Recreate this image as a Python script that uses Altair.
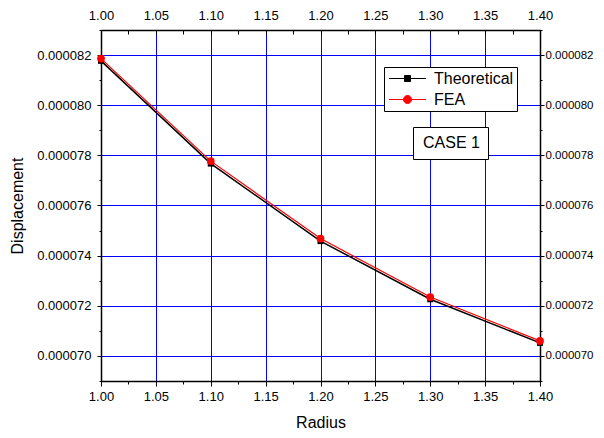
import altair as alt
import pandas as pd

# ---- data ----
radius = [1.00, 1.10, 1.20, 1.30, 1.40]
theoretical = [8.177e-05, 7.767e-05, 7.458e-05, 7.226e-05, 7.052e-05]
fea = [8.186e-05, 7.777e-05, 7.468e-05, 7.235e-05, 7.060e-05]
series_names = ["Theoretical", "FEA"]
series_colors = ["#000000", "#ff0000"]
case_label = ["CASE 1"]

x_ticks = [round(1.0 + 0.025 * i, 3) for i in range(17)]
y_ticks = [round(69e-6 + 1e-6 * i, 12) for i in range(15)]

df = pd.DataFrame({
    "Radius": radius * 2,
    "Displacement": theoretical + fea,
    "series": ["Theoretical"] * len(radius) + ["FEA"] * len(radius),
})
notes = pd.DataFrame({"note": case_label})

FONT = "Liberation Sans"
x_major = "round(datum.value*1000) % 50 == 0"
y_major = "round(datum.value*1e7) % 20 == 0"

x_scale = alt.Scale(domain=[1.0, 1.4], nice=False, zero=False)
y_scale = alt.Scale(domain=[69e-6, 83e-6], nice=False, zero=False)

common_axis = dict(
    labelFont=FONT, labelColor="black",
    titleFont=FONT, titleFontSize=16, titleFontWeight="normal", titleColor="black",
    domainColor="black", domainWidth=1.5, tickColor="black", tickWidth=1,
)

x_bottom = alt.X("Radius:Q", scale=x_scale, axis=alt.Axis(
    orient="bottom", title="Radius", values=x_ticks, format=".2f",
    labelExpr=f"{x_major} ? datum.label : ''", labelFontSize=13,
    tickSize={"condition": {"test": x_major, "value": 5}, "value": 3},
    grid=True, gridColor="#0000ff", gridWidth=1,
    gridOpacity={"condition": {"test": x_major, "value": 1}, "value": 0},
    labelPadding=4, titlePadding=11, labelFlush=False, **common_axis))
y_left = alt.Y("Displacement:Q", scale=y_scale, axis=alt.Axis(
    orient="left", title="Displacement", values=y_ticks, format=".6f",
    labelExpr=f"{y_major} ? datum.label : ''", labelFontSize=13,
    tickSize={"condition": {"test": y_major, "value": 4}, "value": 2},
    grid=True, gridColor="#0000ff", gridWidth=1,
    gridOpacity={"condition": {"test": y_major, "value": 1}, "value": 0},
    labelPadding=6, titlePadding=11, labelFlush=False, **common_axis))
x_top = alt.X("Radius:Q", scale=x_scale, axis=alt.Axis(
    orient="top", title=None, values=x_ticks, format=".2f",
    labelExpr=f"{x_major} ? datum.label : ''", labelFontSize=13,
    tickSize=alt.ExprRef(expr="-4"), labelPadding=12, grid=False,
    labelFlush=False, **common_axis))
y_right = alt.Y("Displacement:Q", scale=y_scale, axis=alt.Axis(
    orient="right", title=None, values=y_ticks, format=".6f",
    labelExpr=f"{y_major} ? datum.label : ''", labelFontSize=11.5,
    tickSize={"condition": {"test": y_major, "value": 4}, "value": 2},
    labelPadding=1, grid=False, labelFlush=False, **common_axis))
x_plain = alt.X("Radius:Q", scale=x_scale, axis=None)
y_plain = alt.Y("Displacement:Q", scale=y_scale, axis=None)

base = alt.Chart(df)

line_theo = base.transform_filter("datum.series == 'Theoretical'").mark_line(
    color="black", strokeWidth=1.5).encode(x=x_bottom, y=y_left)
line_fea = base.transform_filter("datum.series == 'FEA'").mark_line(
    color="red", strokeWidth=1.2).encode(x=x_top, y=y_right)
pts_theo = base.transform_filter("datum.series == 'Theoretical'").mark_square(
    color="black", size=36, opacity=1).encode(x=x_plain, y=y_plain)
pts_fea = base.transform_filter("datum.series == 'FEA'").mark_circle(
    color="red", size=60, opacity=1).encode(x=x_plain, y=y_plain)

# legend glyph: line - marker - line, 37px wide at symbolSize 256 (8px per unit)
hw = 2.3125
sq = 0.375
cr = 0.5
path_sq = f"M-{hw},0H-{sq}M{sq},0H{hw}M-{sq},-{sq}H{sq}V{sq}H-{sq}Z"
path_ci = (f"M-{hw},0H-{cr}M{cr},0H{hw}M{cr},0A{cr},{cr},0,1,1,-{cr},0"
           f"A{cr},{cr},0,1,1,{cr},0Z")

legend_main = alt.Legend(
    title=None, orient="none", legendX=283, legendY=37,
    strokeColor="black", fillColor="white", padding=3,
    symbolSize=256, symbolStrokeWidth=1, symbolOffset=12,
    labelFont=FONT, labelFontSize=16, labelColor="black", labelOffset=18,
    rowPadding=4, symbolOpacity=1,
)
legend_layer = base.transform_filter("false").mark_point(filled=True).encode(
    fill=alt.Fill("series:N", scale=alt.Scale(domain=series_names, range=series_colors), legend=legend_main),
    stroke=alt.Stroke("series:N", scale=alt.Scale(domain=series_names, range=series_colors), legend=legend_main),
    shape=alt.Shape("series:N", scale=alt.Scale(domain=series_names, range=[path_sq, path_ci]), legend=legend_main),
)

case_layer = alt.Chart(notes).transform_filter("false").mark_point().encode(
    opacity=alt.Opacity("note:N", scale=alt.Scale(domain=case_label, range=[0]), legend=alt.Legend(
        title=None, orient="none", legendX=312, legendY=97,
        strokeColor="black", fillColor="white", padding=8,
        symbolSize=1, symbolStrokeWidth=0, symbolOffset=0,
        labelOffset=alt.ExprRef(expr="-14"),
        symbolOpacity=0,
        labelFont=FONT, labelFontSize=16, labelColor="black")),
)

chart = alt.layer(
    line_theo, line_fea, pts_theo, pts_fea, legend_layer, case_layer
).resolve_axis(x="independent", y="independent").properties(
    width=439, height=351,
    autosize=alt.AutoSizeParams(type="none"),
    padding={"left": 93, "top": 22, "right": 55, "bottom": 49},
).configure_view(stroke="black", strokeWidth=1)

chart.save("out.html", embed_options={"renderer": "svg", "actions": False})
